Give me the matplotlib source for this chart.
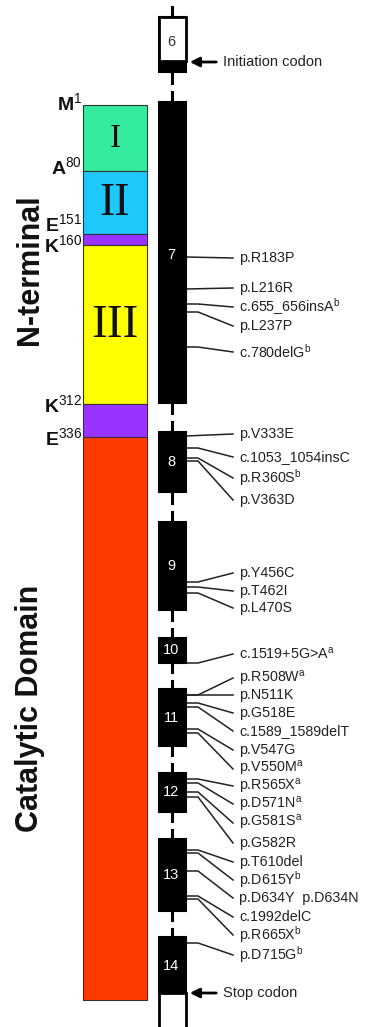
import matplotlib.pyplot as plt

plt.rcParams["font.family"] = ["Liberation Sans", "DejaVu Sans"]
plt.rcParams["mathtext.fontset"] = "custom"
plt.rcParams["mathtext.rm"] = "Liberation Sans"
plt.rcParams["mathtext.bf"] = "Liberation Sans:bold"

# protein domains (schematic map units, top to bottom)
domain_names = ["I", "II", "", "III", "", ""]
domain_start = [105, 171, 234, 245, 404, 437]
domain_end = [171, 234, 245, 404, 437, 1000]
domain_colors = ["#33EC9E", "#1EC8FA", "#9933FF", "#FFFF00", "#9933FF", "#FF3A00"]
domain_font = [24, 33, 0, 34, 0, 0]

residue_aa = ["M", "A", "E", "K", "K", "E"]
residue_num = [1, 80, 151, 160, 312, 336]
residue_y = [104, 168, 225, 246, 406, 439]

region_names = ["N-terminal", "Catalytic Domain"]
region_y = [270, 708]

# exons
exon_ids = [6, 7, 8, 9, 10, 11, 12, 13, 14]
exon_top = [17, 102, 432, 522, 638, 689, 773, 839, 937]
exon_bottom = [72, 403, 492, 610, 663, 746, 812, 911, 993]

# mutations: attachment on exon, label position
mut_labels = [
    "p.R183P", "p.L216R", "c.655_656insA$^\\mathrm{b}$", "p.L237P", "c.780delG$^\\mathrm{b}$",
    "p.V333E", "c.1053_1054insC", "p.R360S$^\\mathrm{b}$", "p.V363D",
    "p.Y456C", "p.T462I", "p.L470S",
    "c.1519+5G>A$^\\mathrm{a}$",
    "p.R508W$^\\mathrm{a}$", "p.N511K", "p.G518E", "c.1589_1589delT", "p.V547G", "p.V550M$^\\mathrm{a}$",
    "p.R565X$^\\mathrm{a}$", "p.D571N$^\\mathrm{a}$", "p.G581S$^\\mathrm{a}$", "p.G582R",
    "p.T610del", "p.D615Y$^\\mathrm{b}$", "p.D634Y  p.D634N", "c.1992delC", "p.R665X$^\\mathrm{b}$",
    "p.D715G$^\\mathrm{b}$",
]
mut_exon_y = [257, 289, 304, 312, 347,
              436, 448, 458, 461,
              582, 587, 593,
              663,
              695, 695, 703, 707, 729, 733,
              779, 783, 792, 797,
              850, 853, 871, 896, 899,
              943]
mut_text_y = [258, 288, 307, 326, 352,
              434, 457, 478, 500,
              573, 591, 608,
              654,
              678, 695, 713, 731, 750, 769,
              786, 804, 823, 843,
              862, 880, 898, 917, 935,
              955]

fig = plt.figure(figsize=(3.7, 10.27), dpi=100)
ax = fig.add_axes([0, 0, 1, 1])
ax.set_xlim(0, 370)
ax.set_ylim(1027, 0)
ax.axis("off")

# protein bar
heights = [e - s for s, e in zip(domain_start, domain_end)]
ax.bar(115, heights, bottom=domain_start, width=64, color=domain_colors,
       edgecolor="#333333", linewidth=0.8, zorder=2)
for name, s, e, fs in zip(domain_names, domain_start, domain_end, domain_font):
    if name:
        ax.text(115, (s + e) / 2 + 1, name, family="Liberation Serif", fontsize=fs,
                ha="center", va="center", color="#111111", zorder=3)

for aa, num, y in zip(residue_aa, residue_num, residue_y):
    ax.text(82, y, f"{aa}$^{{\\mathrm{{{num}}}}}$", fontsize=14, fontweight="bold",
            ha="right", va="center", color="#111111")

for name, y in zip(region_names, region_y):
    ax.text(30, y, name, rotation=90, fontsize=22, fontweight="bold",
            ha="center", va="center", color="#111111")

# gene backbone with breaks in each intron
xc = 172
ax.plot([xc, xc], [7, exon_top[0]], color="black", lw=2.2, zorder=1)
for b, t in zip(exon_bottom[:-1], exon_top[1:]):
    mid = (b + t) / 2
    ax.plot([xc, xc], [b, mid - 4.5], color="black", lw=2.2, zorder=1)
    ax.plot([xc, xc], [mid + 4.5, t], color="black", lw=2.2, zorder=1)

# exons
ex_h = [b - t for t, b in zip(exon_top, exon_bottom)]
ax.bar(xc, ex_h, bottom=exon_top, width=27, color="black", edgecolor="black",
       linewidth=1.5, zorder=2)
# exon 6: mostly untranslated (white) with coding part at bottom
ax.bar(xc, 44, bottom=exon_top[0], width=27, color="white", edgecolor="black",
       linewidth=2, zorder=3)
# exon 14: untranslated tail below stop codon
ax.bar(xc, 60, bottom=exon_bottom[-1], width=27, color="white", edgecolor="black",
       linewidth=2, zorder=1)

for eid, t, b in zip(exon_ids, exon_top, exon_bottom):
    y = (t + b) / 2
    if eid == 6:
        y = t + 25
    elif eid == 7:
        y = 255
    elif eid == 14:
        y = 966
    ax.text(xc - 1, y, str(eid), fontsize=10.5, ha="center", va="center",
            color="#333333" if eid == 6 else "white", zorder=4)

# codon arrows
ax.annotate("", xy=(187, 62), xytext=(219, 62),
            arrowprops=dict(arrowstyle="-|>", lw=2, color="black", mutation_scale=14))
ax.text(223, 62, "Initiation codon", fontsize=10.5, ha="left", va="center", color="#222222")
ax.annotate("", xy=(187, 993), xytext=(219, 993),
            arrowprops=dict(arrowstyle="-|>", lw=2, color="black", mutation_scale=14))
ax.text(223, 993, "Stop codon", fontsize=10.5, ha="left", va="center", color="#222222")

# mutation leaders and labels
x0 = xc + 14
for lab, ya, yt in zip(mut_labels, mut_exon_y, mut_text_y):
    if abs(ya - yt) < 3:
        xs, ys = [x0, 233], [ya, yt]
    else:
        xs, ys = [x0, x0 + 12, 233], [ya, ya, yt]
    ax.plot(xs, ys, color="#222222", lw=1.1, zorder=1)
    ax.text(239, yt, lab, fontsize=10.3, ha="left", va="center", color="#222222")

fig.savefig("out.png", dpi=100)
